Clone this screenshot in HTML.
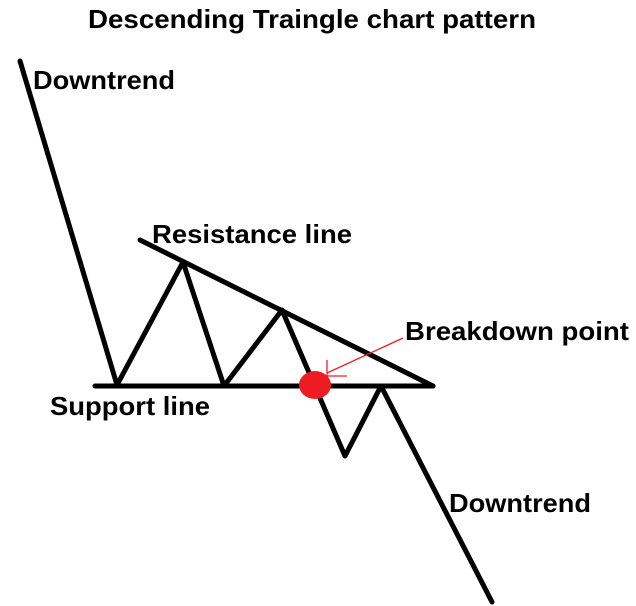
<!DOCTYPE html>
<html><head><style>
body{margin:0;background:#fff;width:636px;height:606px;overflow:hidden}
svg{display:block}
text{font-family:"Liberation Sans",Arial,sans-serif;font-weight:bold;font-size:26px;fill:#000}
</style></head><body>
<svg width="636" height="606" viewBox="0 0 636 606">
<text x="88" y="28" textLength="448" lengthAdjust="spacingAndGlyphs">Descending Traingle chart pattern</text>
<text x="33" y="89" textLength="142" lengthAdjust="spacingAndGlyphs">Downtrend</text>
<text x="152" y="243" textLength="200" lengthAdjust="spacingAndGlyphs">Resistance line</text>
<text x="405" y="340" textLength="224" lengthAdjust="spacingAndGlyphs">Breakdown point</text>
<text x="50" y="415" textLength="160" lengthAdjust="spacingAndGlyphs">Support line</text>
<text x="449" y="512" textLength="142" lengthAdjust="spacingAndGlyphs">Downtrend</text>
<g stroke="#000" stroke-width="5" stroke-linecap="round" stroke-linejoin="round" fill="none">
<line x1="95" y1="386" x2="433" y2="386"/>
<line x1="140" y1="240" x2="433" y2="386"/>
<polyline points="20,61 117,385 183,262 224,386 282,310 345,456 381,386 492,602"/>
</g>
<ellipse cx="315" cy="385" rx="16" ry="14" fill="#ed1c24"/>
<g stroke="#ed1c24" stroke-width="1.3">
<line x1="403" y1="338" x2="327" y2="373"/>
<line x1="327" y1="360" x2="327" y2="377"/>
<line x1="327" y1="376" x2="347" y2="376"/>
</g>
</svg>
</body></html>
